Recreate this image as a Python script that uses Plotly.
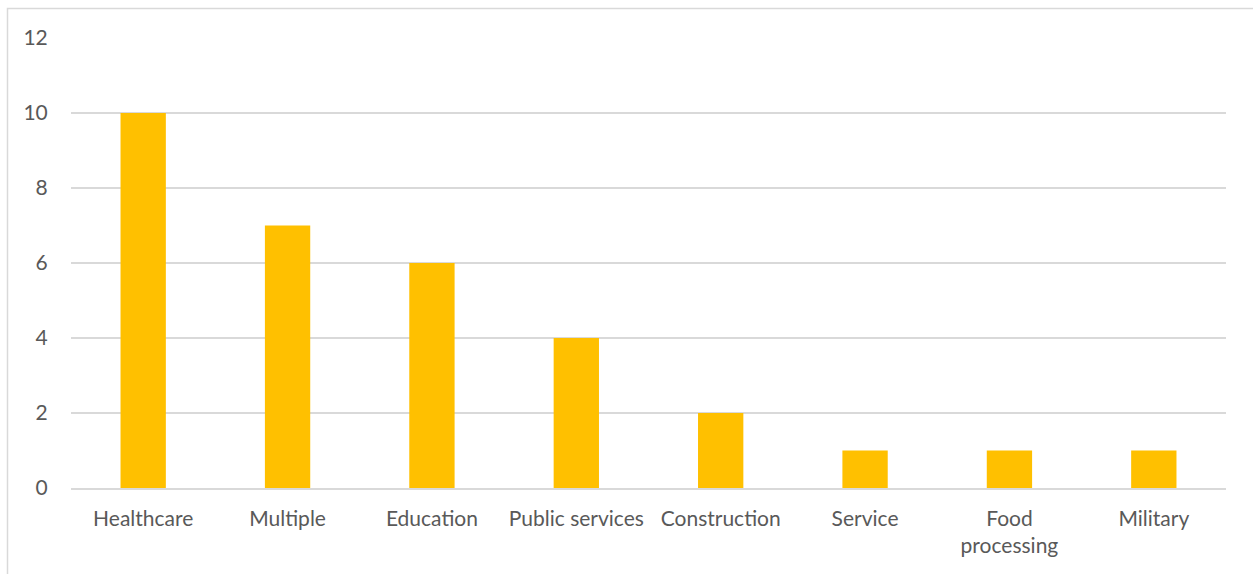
import plotly.graph_objects as go

categories = ["Healthcare", "Multiple", "Education", "Public services", "Construction",
              "Service", "Food<br>processing", "Military"]
values = [10, 7, 6, 4, 2, 1, 1, 1]
y_ticks = [0, 2, 4, 6, 8, 10, 12]

W, H = 1253, 574
L, R, T, B = 71, 27, 38, 86
pw, ph = W - L - R, H - T - B

fig = go.Figure(go.Bar(x=categories, y=values, marker=dict(color="#FFC000", line=dict(width=0)),
                       hoverinfo="x+y"))

fig.update_layout(
    width=W, height=H,
    margin=dict(l=L, r=R, t=T, b=B),
    paper_bgcolor="white", plot_bgcolor="white",
    bargap=0.686,
    showlegend=False,
    font=dict(family="Lato, Calibri, sans-serif", size=21, color="#595959"),
    xaxis=dict(showgrid=False, showline=True, linecolor="#d9d9d9", linewidth=1.5,
               ticks="outside", ticklen=11, tickcolor="rgba(0,0,0,0)",
               tickfont=dict(size=21, color="#595959"), fixedrange=True),
    yaxis=dict(range=[0, 12], tickvals=y_ticks, showgrid=True, gridcolor="#d9d9d9", gridwidth=1.5,
               zeroline=False, showline=False,
               ticks="outside", ticklen=18, tickcolor="rgba(0,0,0,0)",
               tickfont=dict(size=21, color="#595959"), fixedrange=True),
    shapes=[dict(type="rect", xref="paper", yref="paper",
                 x0=(7.5 - L) / pw, x1=(W + 20 - L) / pw,
                 y0=-(H + 20 - (T + ph)) / ph, y1=1 + (T - 8.5) / ph,
                 line=dict(color="#d9d9d9", width=1.5), fillcolor="rgba(0,0,0,0)", layer="below")],
)

fig.write_html("out.html")
